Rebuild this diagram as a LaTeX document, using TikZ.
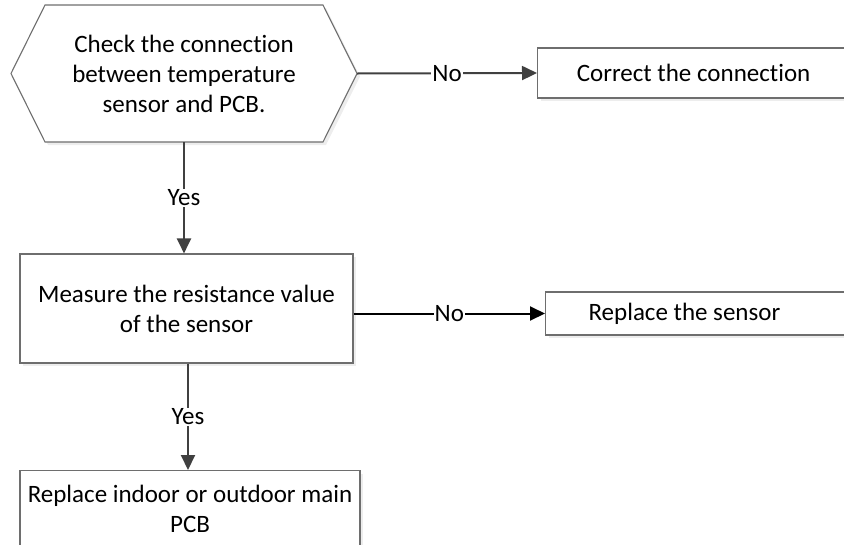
\documentclass[tikz,border=0pt]{standalone}
\usepackage{fontspec}
\setmainfont{Carlito}[RawFeature={-liga;-clig;-calt;-dlig}]
\usetikzlibrary{arrows.meta,shadows}
\definecolor{edge}{HTML}{6E6E6E}
\definecolor{arr}{HTML}{404040}
\tikzset{
  box/.style={draw=edge, line width=1.1pt, fill=white, rectangle, inner sep=0pt, align=center,
    general shadow={shadow xshift=3pt, shadow yshift=-3pt, fill=black!7}},
  flow/.style={draw=arr, line width=2pt, -{Triangle[length=15pt,width=14pt]}},
  lbl/.style={fill=white, inner sep=1pt, text=black},
  txt/.style={font=\fontsize{25}{30}\selectfont}
}
\begin{document}
\begin{tikzpicture}[x=1pt,y=-1pt]
\useasboundingbox (0,0) rectangle (844,544);
\clip (0,0) rectangle (844,544);
% decision hexagon (shape drawn directly, text node on top)
\fill[black!7] (14,76.5) -- (48,8) -- (326,8) -- (360,76.5) -- (326,145) -- (48,145) -- cycle;
\filldraw[draw=edge, fill=white, line width=1.1pt] (11,73.5) -- (45,5) -- (323,5) -- (357,73.5) -- (323,142) -- (45,142) -- cycle;
\node[txt, minimum width=346pt, minimum height=137pt, inner sep=0pt, align=center] (chk) at (184,73.5)
  {Check the connection\\between temperature\\sensor and PCB.};
% boxes
\node[box, txt, minimum width=412pt, minimum height=50pt, anchor=west] (corr) at (537,73) {\hspace*{-100pt}Correct the connection};
\node[box, txt, minimum width=333pt, minimum height=109pt] (meas) at (186.5,308.5) {Measure the resistance value\\of the sensor};
\node[box, txt, minimum height=43pt, text width=300pt, inner xsep=43pt, align=flush left, anchor=west] (sens) at (545,313.5) {Replace the sensor};
\node[box, txt, minimum width=340pt, minimum height=77pt, anchor=north] (repl) at (190,470) {Replace indoor or outdoor main\\PCB};
% connectors
\draw[flow] (chk.east) -- node[lbl, txt]{No} (corr.west);
\draw[flow] (chk.south) -- node[lbl, txt]{Yes} (meas.north -| chk.south);
\draw[flow, draw=black] (meas.east |- sens.west) -- node[lbl, txt]{No} (sens.west);
\draw[flow] ([xshift=1.5pt]meas.south) -- node[lbl, txt]{Yes} ([xshift=1.5pt]meas.south |- repl.north);
\end{tikzpicture}
\end{document}
